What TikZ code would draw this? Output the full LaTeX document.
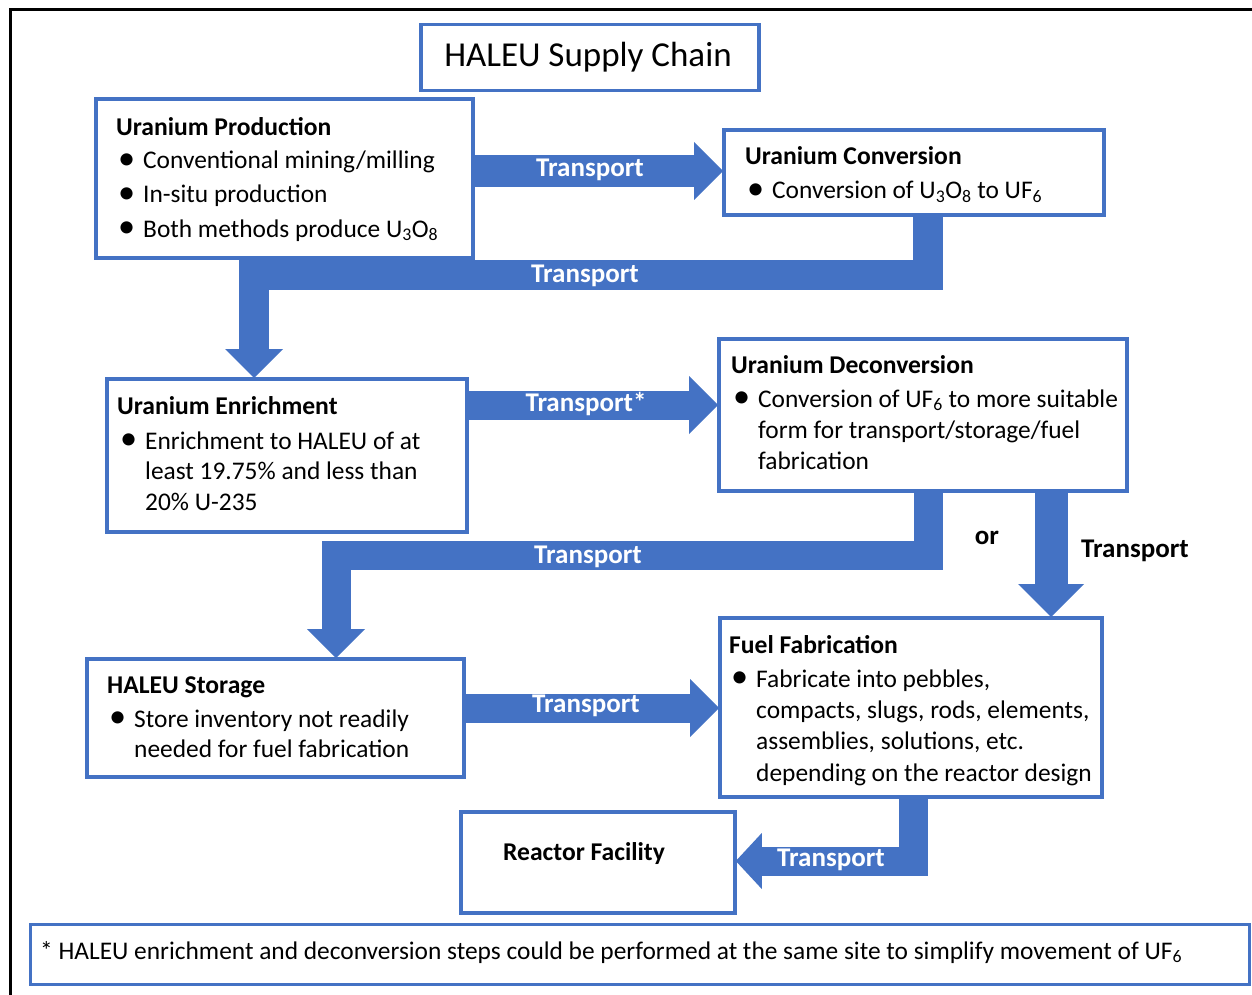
\documentclass[tikz,border=0pt]{standalone}
\usepackage{fontspec}
\setmainfont{Carlito}
\usetikzlibrary{arrows.meta}
\definecolor{hblue}{HTML}{4472C4}
\newcommand\mybul{\makebox[25pt][l]{\raisebox{-0.5pt}{\scalebox{1.35}{•}}}}
\tikzset{
  box/.style={draw=hblue, line width=2.8pt, rectangle, anchor=north west, inner sep=0pt, fill=white},
  txt/.style={anchor=base west, inner sep=0pt, font=\fontsize{25.4}{31}\selectfont},
  head/.style={anchor=base west, inner sep=0pt, font=\fontsize{25.6}{31}\selectfont\bfseries},
  blockarrow/.style={draw=hblue, line width=#1, line join=miter, line cap=butt,
     -{Triangle[width=58pt,length=29pt,line width=0pt]}},
  blockarrow/.default=30pt,
  wlabel/.style={text=white, font=\fontsize{27}{31}\selectfont\bfseries, inner sep=0pt},
  blabel/.style={text=black, font=\fontsize{27}{31}\selectfont\bfseries, inner sep=0pt},
}
\begin{document}
\begin{tikzpicture}[x=1pt,y=-1pt]
\useasboundingbox (0,0) rectangle (1252,995);
% outer frame (only top and left edges visible)
\draw[black, line width=3pt] (10,995) -- (10,10) -- (1252,10);

% boxes
\node[box, line width=3.5pt, minimum width=338pt, minimum height=66pt] (title) at (419,23) {};
\node[box, minimum width=376pt, minimum height=158pt] (prod) at (95,98) {};
\node[box, minimum width=379pt, minimum height=84pt] (conv) at (723,129) {};
\node[box, minimum width=359pt, minimum height=152pt] (enr) at (106,378) {};
\node[box, minimum width=407pt, minimum height=151pt] (decon) at (718,338) {};
\node[box, minimum width=376pt, minimum height=117pt] (stor) at (86,658) {};
\node[box, minimum width=381pt, minimum height=178pt] (fuel) at (719,617) {};
\node[box, minimum width=273pt, minimum height=100pt] (reac) at (460,811) {};
\node[box, minimum width=1219pt, minimum height=60pt] (foot) at (29,923) {};

% block arrows
\draw[blockarrow=32pt] (prod.east |- 0,171) -- (conv.west |- 0,171);
\draw[blockarrow=30pt] (928,0 |- conv.south) -- (928,275) -- (254,275) -- (254,0 |- enr.north);
\draw[blockarrow=29pt] (enr.east |- 0,405) -- (decon.west |- 0,405);
\draw[blockarrow=29pt] (928,0 |- decon.south) -- (928,555) -- (336,555) -- (336,0 |- stor.north);
\draw[draw=hblue, line width=33pt, line cap=butt, -{Triangle[width=66pt,length=33pt,line width=0pt]}]
  (1051,0 |- decon.south) -- (1051,0 |- fuel.north);
\draw[blockarrow=29pt] (stor.east |- 0,708) -- (fuel.west |- 0,708);
\draw[draw=hblue, line width=29pt, line join=miter, line cap=butt, -{Triangle[width=56pt,length=26pt,line width=0pt]}]
  (913,0 |- fuel.south) -- (913,861) -- (reac.east |- 0,861);

% redraw box borders on top of arrow ends
\foreach \b in {prod,conv,enr,decon,stor,fuel,reac}{
  \draw[hblue, line width=2.8pt] (\b.north west) rectangle (\b.south east);
}

% arrow labels
\node[wlabel] (t1) at (590,170) {Transport};
\node[wlabel] (t2) at (585,276) {Transport};
\node[wlabel] (t3) at (586,404) {Transport*};
\node[wlabel] (t4) at (588,557) {Transport};
\node[wlabel] (t6) at (586,706) {Transport};
\node[wlabel] (t7) at (831,860) {Transport};
\node[blabel] (or) at (987,538) {or};
\node[blabel] (t5) at (1135,551) {Transport};

% title text
\node[font=\fontsize{35}{40}\selectfont, inner sep=0pt] (titletxt) at (588,57) {HALEU Supply Chain};

% Uranium Production
\node[head] (prodh) at (116,136) {Uranium Production};
\node[txt] (prod1) at (118,169) {\mybul Conventional mining/milling};
\node[txt] (prod2) at (118,203) {\mybul In-situ production};
\node[txt] (prod3) at (118,237) {\mybul Both methods produce U\textsubscript{3}O\textsubscript{8}};

% Uranium Conversion
\node[head] (convh) at (745,165) {Uranium Conversion};
\node[txt] (conv1) at (747,199) {\mybul Conversion of U\textsubscript{3}O\textsubscript{8} to UF\textsubscript{6}};

% Uranium Enrichment
\node[head] (enrh) at (117,414) {Uranium Enrichment};
\node[txt] (enr1) at (120,449) {\mybul Enrichment to HALEU of at};
\node[txt] (enr2) at (145,479) {least 19.75\% and less than};
\node[txt] (enr3) at (145,510) {20\% U-235};

% Uranium Deconversion
\node[head] (deconh) at (731,373) {Uranium Deconversion};
\node[txt] (decon1) at (733,407) {\mybul Conversion of UF\textsubscript{6} to more suitable};
\node[txt] (decon2) at (758,438) {form for transport/storage/fuel};
\node[txt] (decon3) at (758,469) {fabrication};

% HALEU Storage
\node[head] (storh) at (107,693) {HALEU Storage};
\node[txt] (stor1) at (109,727) {\mybul Store inventory not readily};
\node[txt] (stor2) at (134,757) {needed for fuel fabrication};

% Fuel Fabrication
\node[head] (fuelh) at (729,653) {Fuel Fabrication};
\node[txt] (fuel1) at (731,687) {\mybul Fabricate into pebbles,};
\node[txt] (fuel2) at (756,718) {compacts, slugs, rods, elements,};
\node[txt] (fuel3) at (756,749) {assemblies, solutions, etc.};
\node[txt] (fuel4) at (756,781) {depending on the reactor design};

% Reactor Facility
\node[font=\fontsize{25.6}{31}\selectfont\bfseries, inner sep=0pt] (reactxt) at (584,854) {Reactor Facility};

% footnote
\node[txt] (foottxt) at (40,959) {* HALEU enrichment and deconversion steps could be performed at the same site to simplify movement of UF\textsubscript{6}};
\end{tikzpicture}
\end{document}
